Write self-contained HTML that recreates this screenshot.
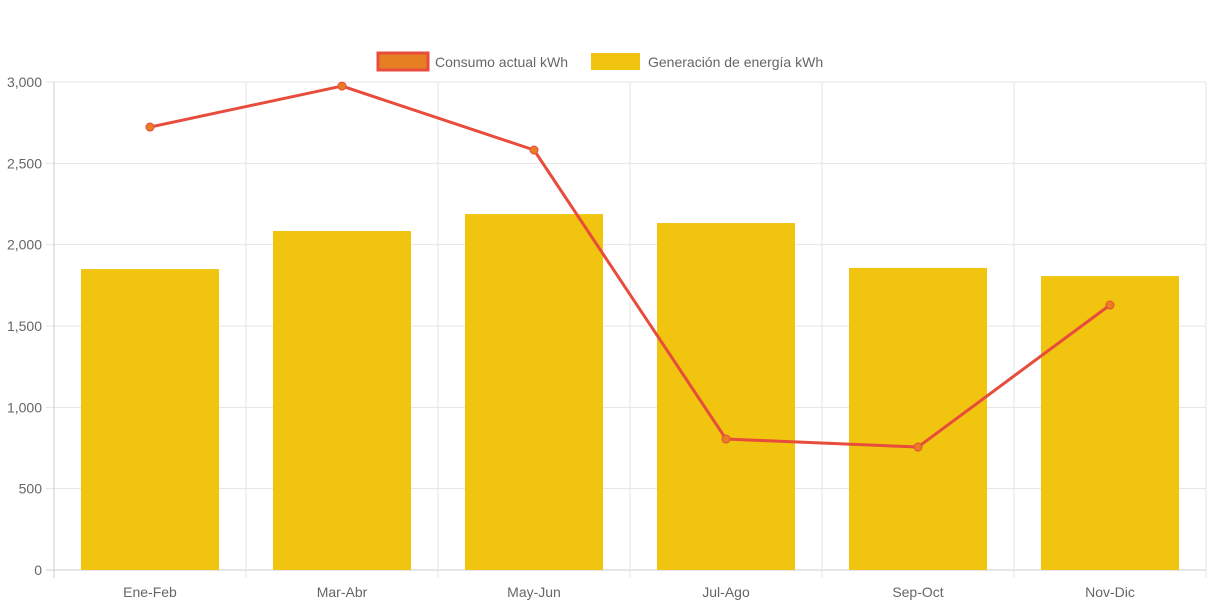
<!DOCTYPE html>
<html><head><meta charset="utf-8"><style>
body{margin:0;background:#fff;}
svg{display:block;font-family:"Liberation Sans",sans-serif;}
</style></head><body>
<svg id="chart" width="1213" height="606">
<g id="grid"></g>
<g id="bars"></g>
<g id="line"></g>
<g id="axes"></g>
<g>
<g>
<rect x="378" y="53" width="50" height="17" fill="#e67e22" stroke="#e74c3c" stroke-width="3"/>
<text x="435" y="67" font-size="14" fill="#666">Consumo actual kWh</text></g>
<g>
<rect x="591" y="53" width="49" height="17" fill="#f1c40f"/>
<text x="648" y="67" font-size="14" fill="#666">Generación de energía kWh</text></g>
</g>
</svg>
<script>
const categories=["Ene-Feb","Mar-Abr","May-Jun","Jul-Ago","Sep-Oct","Nov-Dic"];
const generacion=[1850,2084,2188,2133,1857,1807];
const consumo=[2723,2975,2582,805,756,1629];
const yTicks=[0,500,1000,1500,2000,2500,3000];
const NS="http://www.w3.org/2000/svg";
const L=54,R=1206,T=82,B=570,yMax=3000;
const bw=(R-L)/categories.length;
function x(i){return L+bw*(i+0.5);}
function y(v){return B-(v/yMax)*(B-T);}
function mk(tag,attrs,parent,txt){const e=document.createElementNS(NS,tag);for(const k in attrs)e.setAttribute(k,attrs[k]);if(txt!==undefined)e.textContent=txt;document.getElementById(parent).appendChild(e);return e;}
yTicks.forEach(v=>{
 const g=mk("line",{x1:L-8,x2:R,y1:y(v),y2:y(v),stroke:v===0?"#ccc":"#e5e5e5","stroke-width":1},"grid");
 
 
 const t=mk("text",{x:L-12,y:y(v)+5,"text-anchor":"end","font-size":14,fill:"#666"},"axes",v.toLocaleString("en-US"));
 
 
});
for(let i=0;i<=categories.length;i++){
 const gx=L+bw*i;
 const g=mk("line",{x1:gx,x2:gx,y1:T,y2:B+8,stroke:i===0?"#ccc":"#e5e5e5","stroke-width":1},"grid");
 
 
}
categories.forEach((c,i)=>{
 const t=mk("text",{x:x(i),y:597,"text-anchor":"middle","font-size":14,fill:"#666"},"axes",c);
 
 
 const w=138;
 const r=mk("rect",{x:x(i)-w/2,y:y(generacion[i]),width:w,height:B-y(generacion[i]),fill:"#f1c40f"},"bars");
 
 
});
const p=mk("polyline",{points:consumo.map((v,i)=>x(i)+","+y(v)).join(" "),fill:"none",stroke:"#e74c3c","stroke-width":3,"stroke-linejoin":"round"},"line");


consumo.forEach((v,i)=>{
 const c=mk("circle",{cx:x(i),cy:y(v),r:4,fill:"#e67e22",stroke:"#e74c3c","stroke-width":1},"line");
 
 
});
</script>
</body></html>
